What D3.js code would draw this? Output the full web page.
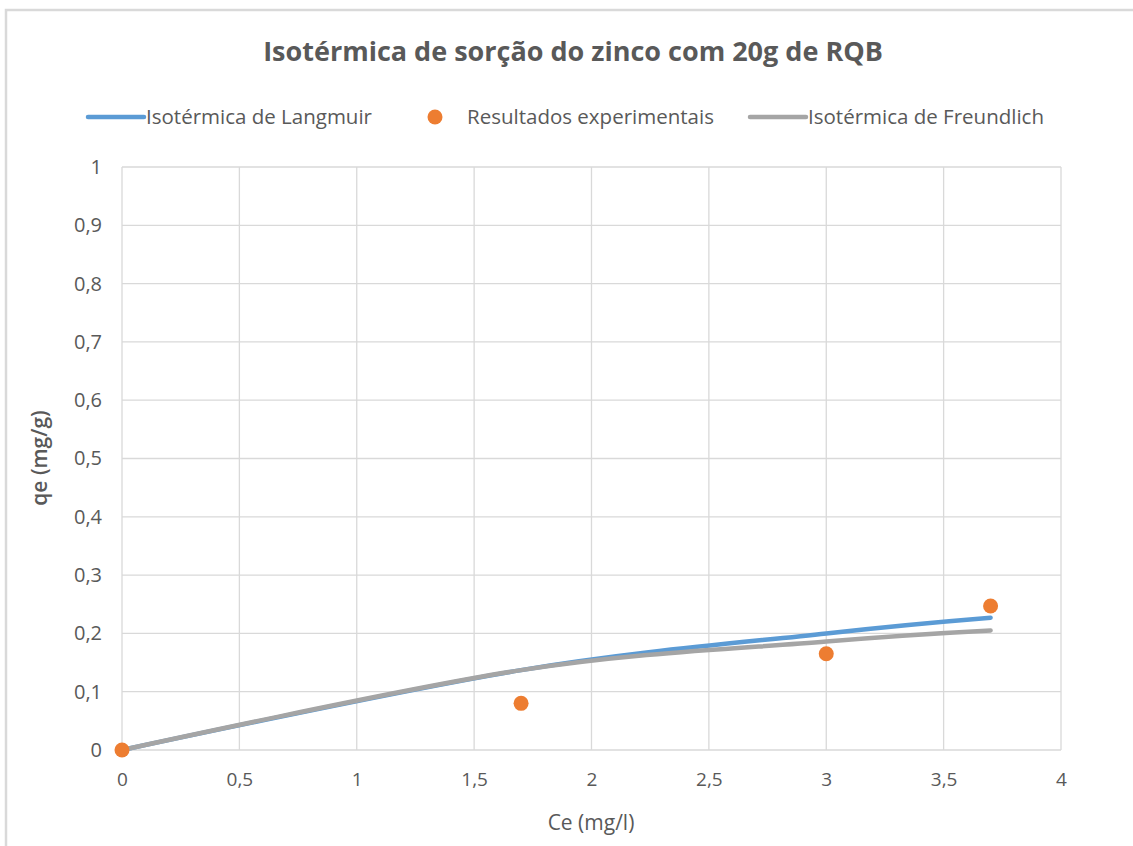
<!DOCTYPE html>
<html>
<head>
<meta charset="utf-8">
<script src="https://cdn.jsdelivr.net/npm/d3@7"></script>
<style>
  body { margin: 0; background: #fff; }
</style>
</head>
<body>
<svg id="chart" width="1133" height="846" font-family="'Open Sans', sans-serif"></svg>
<script>
// Ce values (mg/l)
const ceValues = [0, 1.7, 3, 3.7];
// model curves and experimental results, qe (mg/g)
const langmuir = [0, 0.137, 0.2, 0.227];
const freundlich = [0, 0.137, 0.186, 0.205];
const experimental = [0, 0.08, 0.165, 0.247];

const xTicks = [0, 0.5, 1, 1.5, 2, 2.5, 3, 3.5, 4];
const yTicks = [0, 0.1, 0.2, 0.3, 0.4, 0.5, 0.6, 0.7, 0.8, 0.9, 1];

const titleText = 'Isotérmica de sorção do zinco com 20g de RQB';
const xTitle = 'Ce (mg/l)';
const yTitle = 'qe (mg/g)';
const legendLabels = ['Isotérmica de Langmuir', 'Resultados experimentais', 'Isotérmica de Freundlich'];

const svg = d3.select('#chart');
const font = "'Open Sans', sans-serif";
const textColor = '#595959';

// chart frame (only top and left visible in the reference)
svg.append('path')
    .attr('d', 'M6,846 V10 H1133')
    .attr('fill', 'none')
    .attr('stroke', '#d9d9d9')
    .attr('stroke-width', 2.5);

const margin = { top: 167, left: 122 };
const innerWidth = 1061 - 122;
const innerHeight = 750 - 167;

const xScale = d3.scaleLinear().domain([0, 4]).range([0, innerWidth]);
const yScale = d3.scaleLinear().domain([0, 1]).range([innerHeight, 0]);

const fmt = d => String(d).replace('.', ',');

const g = svg.append('g')
    .attr('transform', `translate(${margin.left}, ${margin.top})`);

// gridlines
g.append('g')
    .selectAll('line')
    .data(yTicks)
    .join('line')
    .attr('x1', 0)
    .attr('x2', innerWidth)
    .attr('y1', d => yScale(d))
    .attr('y2', d => yScale(d))
    .attr('stroke', '#d9d9d9')
    .attr('stroke-width', 1.3);

g.append('g')
    .selectAll('line')
    .data(xTicks)
    .join('line')
    .attr('x1', d => xScale(d))
    .attr('x2', d => xScale(d))
    .attr('y1', 0)
    .attr('y2', innerHeight)
    .attr('stroke', '#d9d9d9')
    .attr('stroke-width', 1.3);

// axes (labels only)
const yAxis = g.append('g')
    .call(d3.axisLeft(yScale).tickValues(yTicks).tickFormat(fmt).tickSize(0).tickPadding(20))
    .attr('font-family', font)
    .attr('font-size', 20);
yAxis.select('.domain').remove();
yAxis.selectAll('text').attr('fill', textColor);

const xAxis = g.append('g')
    .attr('transform', `translate(0, ${innerHeight})`)
    .call(d3.axisBottom(xScale).tickValues(xTicks).tickFormat(fmt).tickSize(0).tickPadding(23))
    .attr('font-family', font)
    .attr('font-size', 19);
xAxis.select('.domain').remove();
xAxis.selectAll('text').attr('fill', textColor);

// lines
const line = d3.line()
    .x((d, i) => xScale(ceValues[i]))
    .y(d => yScale(d))
    .curve(d3.curveCatmullRom.alpha(0));

g.append('path')
    .datum(langmuir)
    .attr('d', line)
    .attr('fill', 'none')
    .attr('stroke', '#5b9bd5')
    .attr('stroke-width', 4.5)
    .attr('stroke-linecap', 'round');

g.append('path')
    .datum(freundlich)
    .attr('d', line)
    .attr('fill', 'none')
    .attr('stroke', '#a5a5a5')
    .attr('stroke-width', 4.5)
    .attr('stroke-linecap', 'round');

g.append('g')
    .selectAll('circle')
    .data(experimental)
    .join('circle')
    .attr('cx', (d, i) => xScale(ceValues[i]))
    .attr('cy', d => yScale(d))
    .attr('r', 7.5)
    .attr('fill', '#ed7d31');

// title
svg.append('text')
    .attr('x', 573)
    .attr('y', 61)
    .attr('text-anchor', 'middle')
    .attr('font-size', 27)
    .attr('font-weight', 'bold')
    .attr('fill', textColor)
    .text(titleText);

// axis titles
svg.append('text')
    .attr('x', 591)
    .attr('y', 830)
    .attr('text-anchor', 'middle')
    .attr('font-size', 21)
    .attr('fill', textColor)
    .text(xTitle);

svg.append('text')
    .attr('transform', 'translate(47, 458) rotate(-90)')
    .attr('text-anchor', 'middle')
    .attr('font-size', 21)
    .attr('font-weight', 600)
    .attr('fill', textColor)
    .text(yTitle);

// legend
const legend = svg.append('g').attr('transform', 'translate(0, 117)');
const legendColors = ['#5b9bd5', '#ed7d31', '#a5a5a5'];
const legendX = [88, 435, 750];

legendLabels.forEach((label, i) => {
    if (i === 1) {
        legend.append('circle')
            .attr('cx', legendX[i])
            .attr('cy', 0)
            .attr('r', 7.5)
            .attr('fill', legendColors[i]);
        legend.append('text')
            .attr('x', 467)
            .attr('y', 7)
            .attr('font-size', 20.5)
            .attr('fill', textColor)
            .text(label);
    } else {
        legend.append('line')
            .attr('x1', legendX[i])
            .attr('x2', legendX[i] + 56)
            .attr('y1', 0)
            .attr('y2', 0)
            .attr('stroke', legendColors[i])
            .attr('stroke-width', 4.5)
            .attr('stroke-linecap', 'round');
        legend.append('text')
            .attr('x', legendX[i] + 58)
            .attr('y', 7)
            .attr('font-size', 20.5)
            .attr('fill', textColor)
            .text(label);
    }
});
</script>
</body>
</html>
